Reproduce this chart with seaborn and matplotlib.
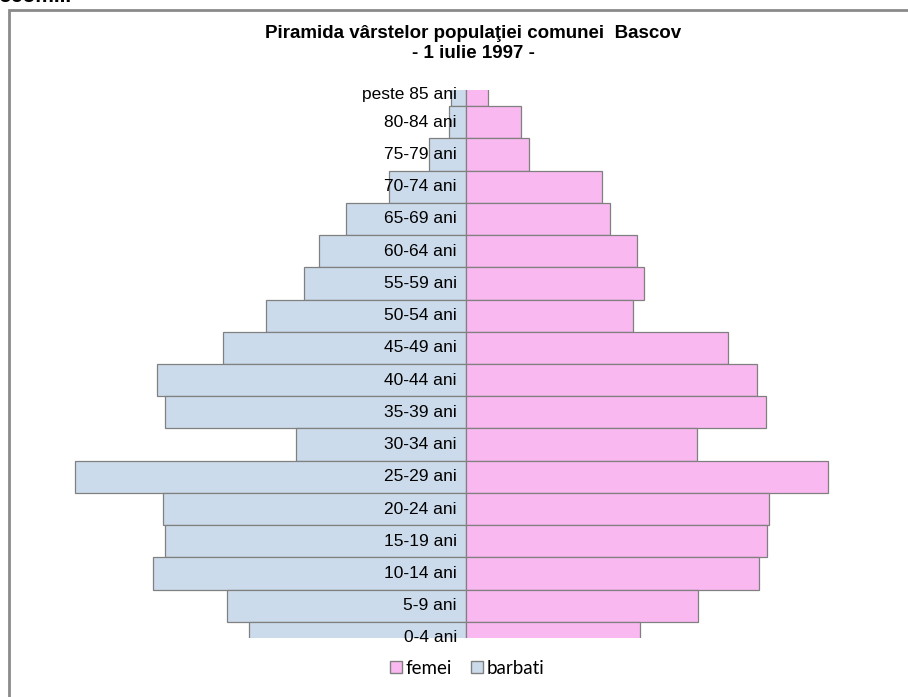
import matplotlib
matplotlib.use("Agg")
import matplotlib.pyplot as plt
from matplotlib.patches import Patch, Rectangle
from matplotlib import font_manager
import pandas as pd
import seaborn as sns

age_groups = [
    "peste 85 ani", "80-84 ani", "75-79 ani", "70-74 ani", "65-69 ani",
    "60-64 ani", "55-59 ani", "50-54 ani", "45-49 ani", "40-44 ani",
    "35-39 ani", "30-34 ani", "25-29 ani", "20-24 ani", "15-19 ani",
    "10-14 ani", "5-9 ani", "0-4 ani",
]
barbati = [15, 17, 37, 77, 120, 147, 162, 200, 243, 309, 301, 170, 391, 303, 301, 313, 239, 217]
femei = [22, 55, 63, 136, 144, 171, 178, 167, 262, 291, 300, 231, 362, 303, 301, 293, 232, 174]

df = pd.DataFrame({"grupa": age_groups, "barbati": barbati, "femei": femei})
df["barbati_neg"] = -df["barbati"]

names = {f.name for f in font_manager.fontManager.ttflist}
narrow = "Liberation Sans Narrow" if "Liberation Sans Narrow" in names else "Liberation Sans"

sns.set_style("white")
plt.rcParams["font.family"] = ["Liberation Sans", "DejaVu Sans"]
plt.rcParams["text.color"] = "black"

fig = plt.figure(figsize=(9.08, 6.97), dpi=100)
W, H = 908, 697
ax = fig.add_axes([40 / W, 1 - 638 / H, 850 / W, 548 / H])

col_b = "#CCDBEB"
col_f = "#FAB8F1"
edge = "#808080"

sns.barplot(data=df, x="barbati_neg", y="grupa", orient="h", color=col_b,
            width=1, edgecolor=edge, linewidth=0.9, saturation=1, ax=ax)
sns.barplot(data=df, x="femei", y="grupa", orient="h", color=col_f,
            width=1, edgecolor=edge, linewidth=0.9, saturation=1, ax=ax)

ax.set_xlim(-426, 424)
ax.set_ylim(len(age_groups) - 1, 0)
ax.set_xticks([])
ax.set_yticks([])
ax.set_xlabel("")
ax.set_ylabel("")
for s in ax.spines.values():
    s.set_visible(False)

for i, lab in enumerate(age_groups):
    yy = i + 0.15 if i == 0 else i
    ax.text(-9, yy, lab, ha="right", va="center", fontsize=12.5,
            family=[narrow, "DejaVu Sans"], color="black", clip_on=False)

fig.text(473 / W, 1 - 33 / H, "Piramida vârstelor populaţiei comunei  Bascov",
         ha="center", va="center", fontsize=13.5, fontweight="bold", color="black")
fig.text(473 / W, 1 - 53 / H, "- 1 iulie 1997 -",
         ha="center", va="center", fontsize=13.5, fontweight="bold", color="black")

# border of the chart area
fig.add_artist(Rectangle((9 / W, -0.1), 1.2, 1 - 10 / H + 0.1, transform=fig.transFigure,
                         fill=False, edgecolor="#8A8A8A", linewidth=2))
# cropped text at the very top of the page
fig.text(-2 / W, 1 - 2 / H, "ocom...", ha="left", va="baseline", fontsize=15,
         fontweight="bold", color="black")

handles = [Patch(facecolor=col_f, edgecolor=edge, label="femei"),
           Patch(facecolor=col_b, edgecolor=edge, label="barbati")]
fig.legend(handles=handles, loc="center", bbox_to_anchor=(467 / W, 1 - 668 / H), ncol=2,
           frameon=False, handlelength=0.65, handleheight=0.65,
           handletextpad=0.2, columnspacing=1.0,
           prop={"family": ["Lato", "DejaVu Sans"], "size": 13.5})

fig.savefig("out.png", dpi=100)
